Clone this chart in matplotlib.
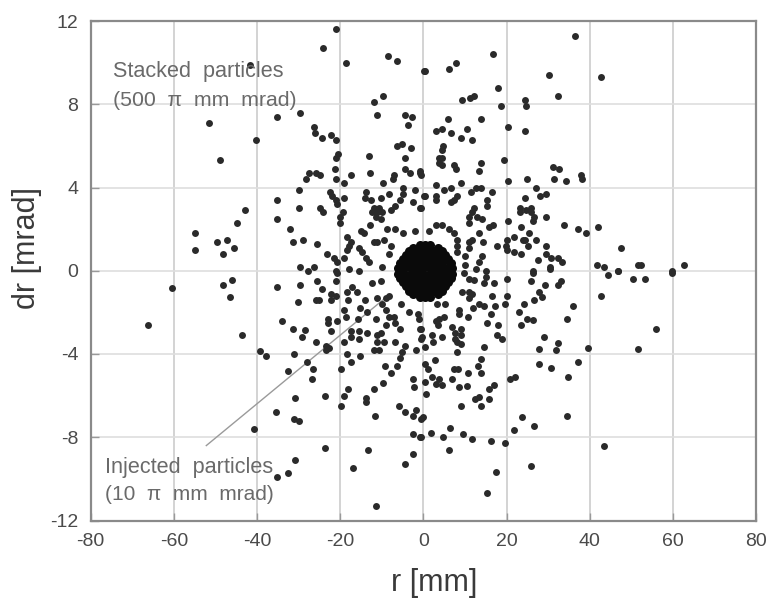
import numpy as np
from matplotlib import pyplot as plt

plt.rcParams['font.family'] = ['Liberation Sans', 'DejaVu Sans']
plt.rcParams['axes.unicode_minus'] = False

x_ticks = [-80, -60, -40, -20, 0, 20, 40, 60, 80]
y_ticks = [-12, -8, -4, 0, 4, 8, 12]

# stacked particles, (r, dr), one quadrant at a time
upper_left = [
    (-20.9, 11.6), (-24.2, 10.7), (-41.6, 9.9), (-18.6, 10.0), (-8.4, 10.3), (-6.4, 10.1), (0.4, 9.6),
    (-9.7, 8.4), (-11.9, 8.1), (-11.1, 7.5), (-4.4, 7.5), (-2.7, 7.4), (-3.7, 7.0), (-51.6, 7.1),
    (-35.3, 7.4), (-29.6, 7.6), (-26.4, 6.9), (-26.1, 6.6), (-24.4, 6.4), (-22.2, 6.5), (-20.9, 6.3),
    (-40.3, 6.3), (-6.3, 6.0), (-5.1, 6.1), (-2.9, 5.9), (-20.6, 5.6), (-21, 5.4), (-13, 5.5),
    (-4.4, 5.4), (-48.8, 5.3), (-21.3, 4.9), (-4.4, 4.9), (-3.2, 4.7), (-0.8, 4.8), (-0.6, 4.6),
    (-27.5, 4.7), (-25.7, 4.7), (-24.9, 4.6), (-28.3, 4.4), (-17.3, 4.6), (-12.9, 4.7), (-21, 4.4),
    (-19.1, 4.2), (-7.1, 4.6), (-7.2, 4.4), (-9.7, 4.2), (-30, 3.9), (-22.5, 3.8), (-2, 3.9),
    (-5, 4), (-4.8, 3.7), (0.4, 3.6), (-13.9, 3.8), (-14.1, 3.5), (-12.7, 3.4), (-10.3, 3.5),
    (-8.3, 3.7), (-5.5, 3.4), (-6.7, 3.1), (-7.9, 2.9), (-35.3, 3.4), (-29.9, 3), (-21.9, 3.6),
    (-21.1, 3.4), (-20.7, 3.2), (-19.1, 3.5), (-2.5, 3.3), (-0.6, 3), (-24.9, 3), (-24.1, 2.8),
    (-19.4, 2.8), (-20.1, 2.6), (-20.1, 2.3), (-11.9, 3), (-10.7, 3), (-11.1, 2.8), (-12.3, 2.8),
    (-9.9, 2.8), (-11.5, 2.6), (-10.3, 2.5), (-43, 2.9), (-44.9, 2.3), (-35.3, 2.5), (-32, 2),
    (-54.9, 1.8), (-55, 1), (-49.6, 1.4), (-47.2, 1.5), (-45.5, 1.1), (-48.2, 0.8), (-31.3, 1.4),
    (-28.9, 1.5), (-25.6, 1.3), (-12.9, 2.2), (-8.7, 2), (-6.7, 2), (-4.8, 1.8), (-2, 1.9),
    (-15.1, 1.9), (-14.3, 1.8), (-18.3, 1.6), (-17.4, 1.4), (-17.9, 1.2), (-18.3, 1), (-15.5, 1.1),
    (-14.7, 0.9), (-13.9, 0.6), (-13, 0.4), (-11.9, 1.4), (-11.1, 1.4), (-9.5, 1.5), (-7.9, 1.2),
    (-8.3, 0.8), (-23.1, 0.8), (-21.6, 0.6), (-20.8, 0.4), (-19.1, 0.6), (-29.7, 0.2), (-26.3, 0.2),
    (-27.7, 0), (-17.9, 0.1), (-20.9, 0), (-15.5, 0), (-9.9, 0.2),
]
upper_right = [
    (36.5, 11.3), (16.7, 10.4), (7.8, 10), (6.2, 9.7), (0.2, 9.6), (30.1, 9.4), (42.7, 9.3),
    (18, 8.8), (32.4, 8.4), (12.2, 8.4), (11.2, 8.3), (9.4, 8.2), (18.6, 7.9), (24.4, 8.2),
    (24.7, 7.9), (5.9, 7.3), (13.9, 7.3), (20.4, 6.9), (24.5, 6.7), (3.1, 6.7), (4.4, 6.8),
    (6.7, 6.6), (10.6, 6.8), (9, 6.4), (11.6, 6.3), (4.8, 6), (4.6, 5.8), (3.8, 5.4),
    (4.6, 5.4), (3.8, 5.2), (4.6, 5.1), (7.4, 5.1), (7.9, 4.9), (13.9, 5.2), (13.4, 4.8),
    (19.3, 5.3), (-0.9, 4.7), (31.1, 5), (32.7, 4.9), (37.8, 4.6), (38.2, 4.4), (31.5, 4.4),
    (34.3, 4.3), (20.3, 4.3), (25, 4.4), (27.1, 4), (29.5, 3.7), (28, 3.6), (3, 4.1),
    (9, 4.2), (5, 3.9), (6.6, 4), (11.4, 3.8), (12.6, 4), (13.8, 4), (16.5, 3.8),
    (0.2, 3.6), (3.1, 3.6), (3.1, 3.4), (8, 3.6), (7.4, 3.4), (6.6, 3.3), (15.4, 3.4),
    (15.4, 3.1), (24.5, 3.5), (-0.9, 3), (12.2, 3), (11.6, 2.8), (11, 2.6), (11, 2.3),
    (12.8, 2.6), (14, 2.5), (23.3, 3), (23.3, 2.8), (24.6, 2.9), (26, 3), (26, 2.8),
    (26.7, 2.6), (26.3, 2.4), (29.6, 2.6), (33.9, 2.2), (37.3, 2), (39.1, 1.8), (42, 2.1),
    (47.5, 1.1), (20.4, 2.4), (23.6, 2.1), (16.8, 2.2), (15.8, 2.1), (1.4, 1.9), (3, 2.2),
    (4.6, 2.2), (6.2, 2), (7.4, 1.8), (8.2, 1.5), (8.2, 1.2), (8, 0.9), (13.4, 1.8),
    (11.8, 1.5), (11, 1.4), (11, 1.1), (14.4, 1.4), (20, 1.5), (21.8, 1.6), (23.9, 1.5),
    (25.5, 1.8), (24.5, 1.5), (27.1, 1.5), (25.1, 1.2), (17.8, 1.2), (19.8, 1.2), (20.2, 1),
    (21.8, 0.9), (23.5, 0.8), (29.5, 1.2), (29.5, 0.8), (30.7, 0.6), (32.3, 0.6), (33.3, 0.4),
    (30.5, 0.2), (27.5, 0.5), (26.4, 0), (14.1, 0.7), (13.4, 0.4), (10, 0.7), (10, 0.3),
    (12.6, 0.1), (15, 0), (41.7, 0.3), (43.5, 0.2), (46.7, 0), (51.6, 0.3), (52.4, 0.3),
    (59.8, 0), (62.8, 0.3),
]
lower_left = [
    (-60.5, -0.85), (-46, -0.45), (-48.2, -0.7), (-46.5, -1.25), (-35.3, -0.8), (-29.7, -0.7),
    (-30.1, -1.5), (-66.3, -2.6), (-43.6, -3.1), (-34, -2.4), (-31.3, -2.8), (-28.4, -2.85),
    (-29.3, -3.2), (-25.9, -3.4), (-39.4, -3.85), (-37.9, -4.1), (-31.2, -4), (-32.6, -4.8),
    (-28, -4.4), (-26.5, -4.7), (-26.7, -5.2), (-23.5, -3.6), (-22.7, -3.7), (-23.5, -3.8),
    (-25.5, -0.5), (-24.3, -0.9), (-25.9, -1.4), (-25.1, -1.4), (-22.3, -1.1), (-21.1, -1.2),
    (-22.2, -1.4), (-20.7, -0.1), (-20.9, -0.5), (-18.3, -1), (-17.1, -0.8), (-15.9, -1),
    (-18.2, -1.4), (-19.1, -1.9), (-18.7, -2.2), (-20.7, -2.4), (-22.9, -2.3), (-23, -2.5),
    (-22.3, -2.9), (-14.1, -1.4), (-15.3, -1.8), (-13.5, -2), (-15.7, -2.3), (-11.5, -2.3),
    (-12.3, -0.6), (-10.3, -0.5), (-11.2, -1.3), (-9, -1.3), (-10, -1.6), (-8.3, -1.2),
    (-9, -1.9), (-5.3, -1.6), (-3.5, -2), (-8.3, -2.2), (-7.1, -2.2), (-6.7, -2.5),
    (-9, -2.6), (-5.5, -2.8), (-10.3, -3), (-17.5, -2.9), (-15.5, -2.9), (-13.5, -3),
    (-19.1, -3.4), (-17.5, -3.2), (-15.5, -3.3), (-11.2, -3.1), (-9.5, -3.4), (-6.7, -3.4),
    (-11.2, -3.4), (-11.9, -3.8), (-10.7, -3.8), (-4.3, -3.6), (-5.1, -3.9), (-5.5, -4.2),
    (-6.3, -4.6), (-7.9, -4.9), (-9.3, -4.6), (-1.8, -3.8), (-0.6, -3.3), (-18.3, -4),
    (-17.5, -4.4), (-19.9, -4.7), (-15.3, -4.1), (-9.6, -5.4), (-11.9, -5.7), (-2.6, -5.2),
    (-2.2, -5.6), (-18.2, -5.7), (-19, -6), (-19.8, -6.5), (-23.7, -6), (-30.8, -6.1),
    (-13.9, -6.1), (-13.7, -6.3), (-5.9, -6.5), (-4.4, -6.8), (-1.8, -6.7), (-2.5, -7),
    (-0.2, -7.05), (-11.7, -7), (-35.4, -6.8), (-31.2, -7.1), (-30, -7.2), (-40.8, -7.6),
    (-2.6, -7.85), (-0.6, -8), (-23.7, -8.5), (-13.3, -8.6), (-2.4, -8.8), (-4.3, -9.3),
    (-16.9, -9.5), (-30.9, -9.1), (-32.6, -9.7), (-35.2, -9.9), (-11.5, -11.3), (-1.4, -2.1),
    (-1, -2.3), (-0.6, -2.8),
]
lower_right = [
    (26.4, -0.1), (30.5, 0.1), (44.4, -0.2), (46.7, 0), (59.8, -0.1), (50.4, -0.4), (53.3, -0.4),
    (42.8, -1.2), (56, -2.8), (20.1, -0.4), (25.9, -0.5), (29.3, -0.7), (27.9, -1), (28.5, -1.25),
    (26.7, -1.4), (33.1, -0.5), (32.4, -0.7), (20, -1.2), (19.7, -1.6), (16.4, -1.2), (17.2, -1.7),
    (14.6, -1.7), (24.3, -1.6), (22.9, -2), (36.1, -1.7), (34.5, -2.3), (23.5, -2.6), (25, -2.3),
    (26.3, -2.35), (16.2, -2.1), (15.2, -2.5), (18, -2.6), (10.7, -2.2), (8.6, -1.9), (8.6, -2.1),
    (13.4, -1.6), (12, -1.8), (11, -1), (11.8, -1.1), (11, -1.3), (9.4, -1), (14.6, -0.6),
    (17, -0.6), (15, -0.3), (11, -0.4), (9.8, -0.1), (12.2, -0.45), (3.4, -1.6), (5.2, -1.6),
    (5, -2.2), (3.8, -2.3), (3.1, -2.4), (3.6, -2.6), (6.8, -2.7), (9, -2.8), (7.6, -3),
    (9, -3.1), (7.6, -3.3), (9, -3.5), (8.2, -3.4), (2.2, -3.1), (2.3, -3.4), (4.4, -3.2),
    (0.4, -3.65), (-0.4, -3.2), (-0.8, -2.8), (17.8, -3.1), (19, -3.3), (14.6, -3.65), (8, -3.9),
    (29.1, -3.2), (27.7, -3.75), (32.4, -3.45), (31.9, -3.8), (39.5, -3.7), (51.7, -3.75),
    (27.9, -4.5), (30.8, -4.65), (37.3, -4.4), (34.9, -5.1), (13.8, -4.25), (13.2, -4.6),
    (13.8, -4.9), (10.7, -4.9), (7.4, -4.7), (8.4, -4.7), (7, -5.2), (2.7, -4.3), (0.4, -4.5),
    (1, -4.7), (2.2, -5.1), (3.8, -5.2), (0.4, -5.35), (3, -5.45), (4.6, -5.5), (0.7, -5.9),
    (8.6, -5.6), (10.4, -5.55), (9, -6.5), (20.8, -5.2), (22.1, -5.1), (17, -5.5), (15.7, -5.7),
    (13.4, -6.05), (12.4, -6.15), (15.9, -6.15), (13.8, -6.5), (23.7, -7.05), (26.6, -7.45),
    (21.7, -7.65), (34.6, -7), (43.5, -8.4), (-0.6, -7.1), (6.3, -7.55), (1.8, -7.8), (4.8, -8),
    (9.6, -7.85), (11.6, -8.1), (16.2, -8.2), (19.6, -8.3), (-0.8, -8), (6.2, -8.6), (17.4, -9.65),
    (25.8, -9.4), (15.2, -10.7),
]

# injected beam, the black spot in the middle
injected = [
    (-0.7, 1.25), (0.5, 1.25), (1.7, 1.25), (-0.7, -1.25), (0.5, -1.25), (1.7, -1.25),
    (-2.5, 1.1), (3.5, 1.1), (-2.5, -1.1), (3.5, -1.1),
    (-3.5, 0.95), (-2, 0.95), (-0.5, 0.95), (1, 0.95), (2.5, 0.95), (4.5, 0.95),
    (-3.5, -0.95), (-2, -0.95), (-0.5, -0.95), (1, -0.95), (2.5, -0.95), (4.5, -0.95),
    (-4.2, 0.75), (-2.8, 0.75), (-1.2, 0.75), (0.2, 0.75), (1.8, 0.75), (3.2, 0.75), (5.2, 0.75),
    (-4.2, -0.75), (-2.8, -0.75), (-1.2, -0.75), (0.2, -0.75), (1.8, -0.75), (3.2, -0.75), (5.2, -0.75),
    (-5, 0.55), (-3.5, 0.55), (-2, 0.55), (-0.5, 0.55), (1, 0.55), (2.5, 0.55), (4, 0.55), (6, 0.55),
    (-5, -0.55), (-3.5, -0.55), (-2, -0.55), (-0.5, -0.55), (1, -0.55), (2.5, -0.55), (4, -0.55), (6, -0.55),
    (-5.6, 0.35), (-4.4, 0.35), (-3, 0.35), (-1.5, 0.35), (0, 0.35), (1.5, 0.35), (3, 0.35), (4.5, 0.35), (6.6, 0.35),
    (-5.6, -0.35), (-4.4, -0.35), (-3, -0.35), (-1.5, -0.35), (0, -0.35), (1.5, -0.35), (3, -0.35), (4.5, -0.35), (6.6, -0.35),
    (-6, 0.15), (-4.6, 0.15), (-3, 0.15), (-1.5, 0.15), (0, 0.15), (1.5, 0.15), (3, 0.15), (4.5, 0.15), (5.8, 0.15), (7, 0.15),
    (-6, -0.15), (-4.6, -0.15), (-3, -0.15), (-1.5, -0.15), (0, -0.15), (1.5, -0.15), (3, -0.15), (4.5, -0.15), (5.8, -0.15), (7, -0.15),
]

leader_r = [-52.2, -9.1]
leader_dr = [-8.4, -1.3]

stacked = np.array(upper_left + upper_right + lower_left + lower_right)
beam = np.array(injected)

fig = plt.figure(figsize=(7.79, 6.01), dpi=100)
ax = fig.add_axes([90.7 / 779, 1 - 520.5 / 601, (756 - 90.7) / 779, (520.5 - 21) / 601])

ax.plot(stacked[:, 0], stacked[:, 1], 'o', ms=5, color='#2a2a2a', mew=0, zorder=3)
ax.plot(beam[:, 0], beam[:, 1], 'o', ms=6.5, color='#0a0a0a', mew=0, zorder=3)
ax.plot(leader_r, leader_dr, color='#9a9a9a', lw=1.0, zorder=2)

ax.set_xlim(-80, 80)
ax.set_ylim(-12, 12)
ax.set_xticks(x_ticks)
ax.set_yticks(y_ticks)
ax.xaxis.grid(True, color='#cccccc', lw=1.2)
ax.yaxis.grid(True, color='#dedede', lw=1.2)
ax.set_axisbelow(True)
ax.tick_params(direction='in', length=6, width=1.0, color='#999999', labelcolor='#4a4a4a',
               labelsize=14, pad=9)
for s in ax.spines.values():
    s.set_color('#8a8a8a')
    s.set_linewidth(1.6)

fig.text(434 / 779, 1 - 583 / 601, 'r [mm]', fontsize=22, color='#3a3a3a', ha='center', va='center')
fig.text(27 / 779, 1 - 248 / 601, 'dr [mrad]', fontsize=22, color='#3a3a3a', ha='center', va='center',
         rotation=90)

fig.text(113 / 779, 1 - 72 / 601, 'Stacked  particles', fontsize=15.6, color='#6a6a6a', va='center')
fig.text(113 / 779, 1 - 100 / 601, '(500  π  mm  mrad)', fontsize=15.3, color='#6a6a6a', va='center')
fig.text(105 / 779, 1 - 467 / 601, 'Injected  particles', fontsize=15.6, color='#6a6a6a', va='center')
fig.text(105 / 779, 1 - 495 / 601, '(10  π  mm  mrad)', fontsize=15, color='#6a6a6a', va='center')

fig.savefig('out.png', dpi=100)
